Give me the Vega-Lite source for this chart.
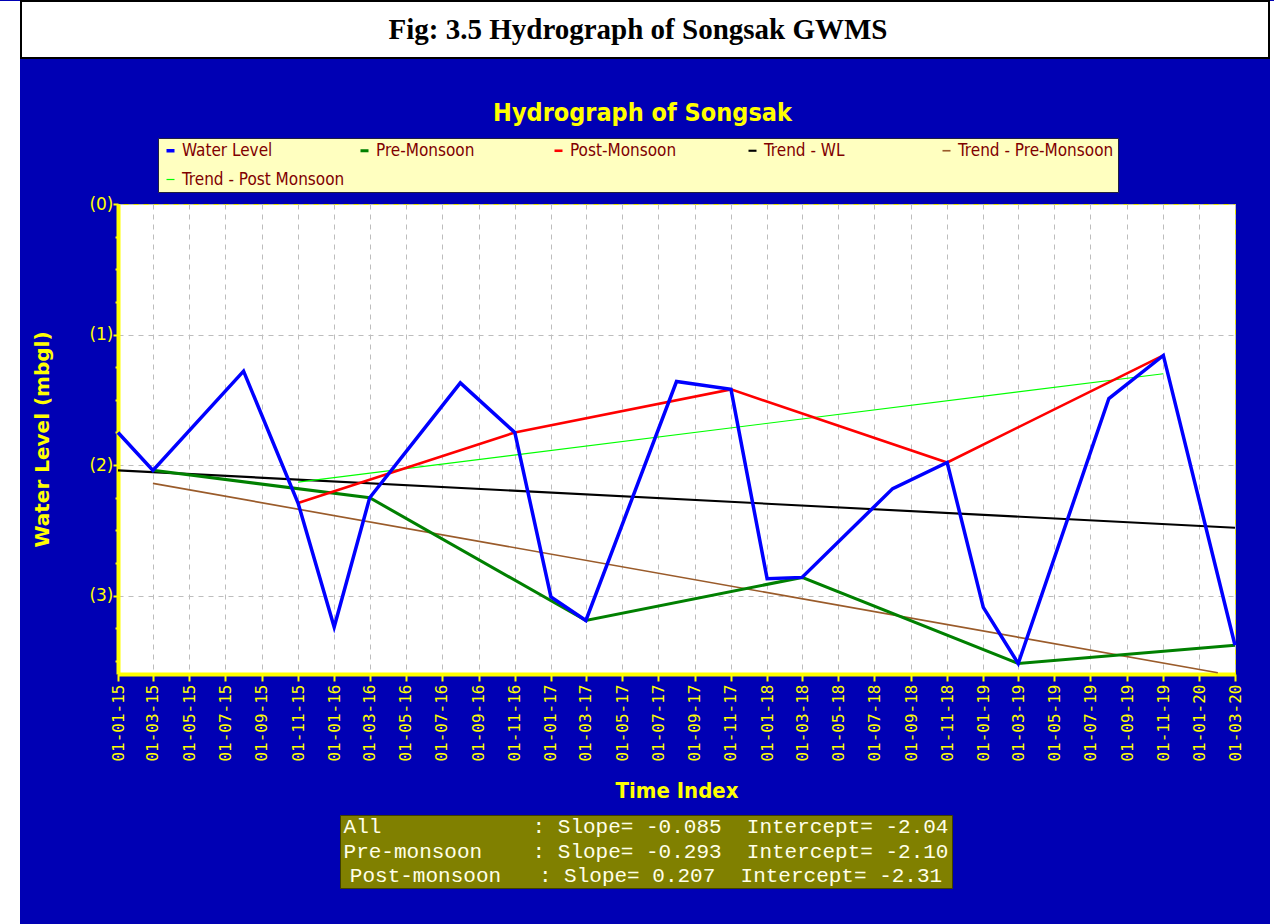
{
  "$schema": "https://vega.github.io/schema/vega-lite/v6.json",
  "background": "#0000B4",
  "padding": 0,
  "config": {"view": {"stroke": null}},
  "spacing": 0,
  "resolve": {"scale": {"color": "independent", "strokeWidth": "independent"}, "legend": {"color": "independent", "strokeWidth": "independent"}},
  "hconcat": [
    {"width": 20, "height": 924, "view": {"fill": "white"}, "data": {"values": []}, "mark": "point"},
    {
      "spacing": 41,
      "resolve": {"scale": {"color": "independent", "strokeWidth": "independent"}, "legend": {"color": "independent", "strokeWidth": "independent"}},
      "vconcat": [
        {
          "width": 1248,
          "height": 57,
          "view": {"fill": "white", "stroke": "black", "strokeWidth": 2},
          "data": {"values": [{"t": "Fig: 3.5 Hydrograph of Songsak GWMS"}]},
          "mark": {"type": "text", "font": "Liberation Serif", "fontWeight": "bold", "fontSize": 29, "color": "black", "align": "center", "baseline": "middle", "dx": -7},
          "encoding": {"text": {"field": "t", "type": "nominal"}}
        },
        {
          "spacing": 12,
          "resolve": {"scale": {"color": "independent", "strokeWidth": "independent"}, "legend": {"color": "independent", "strokeWidth": "independent"}},
          "vconcat": [
            {
              "spacing": 0,
              "resolve": {"scale": {"color": "independent", "strokeWidth": "independent"}, "legend": {"color": "independent", "strokeWidth": "independent"}},
              "hconcat": [
                {"width": 11, "height": 1, "data": {"values": []}, "mark": "point"},
                {
                  "width": 1117,
                  "height": 470,
                  "view": {"fill": "white", "stroke": "#E8E800", "strokeWidth": 1},
                  "title": {"text": "Hydrograph of Songsak", "color": "#FFFF00", "font": "DejaVu Sans Condensed, DejaVu Sans, Arial", "fontSize": 25, "fontWeight": "bold", "anchor": "middle", "dx": -34, "offset": 12},
                  "data": {"values": [
                    {"date": "2015-01-01", "level": -2.04, "series": "Trend - WL"},
                    {"date": "2020-03-01", "level": -2.48, "series": "Trend - WL"},
                    {"date": "2015-03-01", "level": -2.14, "series": "Trend - Pre-Monsoon"},
                    {"date": "2020-02-01", "level": -3.59, "series": "Trend - Pre-Monsoon"},
                    {"date": "2015-11-01", "level": -2.13, "series": "Trend - Post Monsoon"},
                    {"date": "2019-11-01", "level": -1.30, "series": "Trend - Post Monsoon"},
                    {"date": "2015-03-01", "level": -2.04, "series": "Pre-Monsoon"},
                    {"date": "2016-03-01", "level": -2.25, "series": "Pre-Monsoon"},
                    {"date": "2017-03-01", "level": -3.19, "series": "Pre-Monsoon"},
                    {"date": "2018-03-01", "level": -2.86, "series": "Pre-Monsoon"},
                    {"date": "2019-03-01", "level": -3.52, "series": "Pre-Monsoon"},
                    {"date": "2020-03-01", "level": -3.38, "series": "Pre-Monsoon"},
                    {"date": "2015-11-01", "level": -2.29, "series": "Post-Monsoon"},
                    {"date": "2016-11-01", "level": -1.75, "series": "Post-Monsoon"},
                    {"date": "2017-11-01", "level": -1.42, "series": "Post-Monsoon"},
                    {"date": "2018-11-01", "level": -1.98, "series": "Post-Monsoon"},
                    {"date": "2019-11-01", "level": -1.16, "series": "Post-Monsoon"},
                    {"date": "2015-01-01", "level": -1.75, "series": "Water Level"},
                    {"date": "2015-03-01", "level": -2.04, "series": "Water Level"},
                    {"date": "2015-08-01", "level": -1.28, "series": "Water Level"},
                    {"date": "2015-11-01", "level": -2.29, "series": "Water Level"},
                    {"date": "2016-01-01", "level": -3.24, "series": "Water Level"},
                    {"date": "2016-03-01", "level": -2.25, "series": "Water Level"},
                    {"date": "2016-08-01", "level": -1.37, "series": "Water Level"},
                    {"date": "2016-11-01", "level": -1.75, "series": "Water Level"},
                    {"date": "2017-01-01", "level": -3.01, "series": "Water Level"},
                    {"date": "2017-03-01", "level": -3.19, "series": "Water Level"},
                    {"date": "2017-08-01", "level": -1.36, "series": "Water Level"},
                    {"date": "2017-11-01", "level": -1.42, "series": "Water Level"},
                    {"date": "2018-01-01", "level": -2.87, "series": "Water Level"},
                    {"date": "2018-03-01", "level": -2.86, "series": "Water Level"},
                    {"date": "2018-08-01", "level": -2.18, "series": "Water Level"},
                    {"date": "2018-11-01", "level": -1.98, "series": "Water Level"},
                    {"date": "2019-01-01", "level": -3.09, "series": "Water Level"},
                    {"date": "2019-03-01", "level": -3.52, "series": "Water Level"},
                    {"date": "2019-08-01", "level": -1.49, "series": "Water Level"},
                    {"date": "2019-11-01", "level": -1.16, "series": "Water Level"},
                    {"date": "2020-03-01", "level": -3.38, "series": "Water Level"}
                  ]},
                  "mark": {"type": "line", "interpolate": "linear"},
                  "encoding": {
                    "x": {
                      "field": "date", "type": "temporal",
                      "scale": {"type": "utc", "domain": [{"year": 2015, "month": 1, "date": 1, "utc": true}, {"year": 2020, "month": 3, "date": 1, "utc": true}]},
                      "axis": {
                        "values": [
                          {"year": 2015, "month": 1, "date": 1, "utc": true}, {"year": 2015, "month": 3, "date": 1, "utc": true}, {"year": 2015, "month": 5, "date": 1, "utc": true}, {"year": 2015, "month": 7, "date": 1, "utc": true}, {"year": 2015, "month": 9, "date": 1, "utc": true}, {"year": 2015, "month": 11, "date": 1, "utc": true},
                          {"year": 2016, "month": 1, "date": 1, "utc": true}, {"year": 2016, "month": 3, "date": 1, "utc": true}, {"year": 2016, "month": 5, "date": 1, "utc": true}, {"year": 2016, "month": 7, "date": 1, "utc": true}, {"year": 2016, "month": 9, "date": 1, "utc": true}, {"year": 2016, "month": 11, "date": 1, "utc": true},
                          {"year": 2017, "month": 1, "date": 1, "utc": true}, {"year": 2017, "month": 3, "date": 1, "utc": true}, {"year": 2017, "month": 5, "date": 1, "utc": true}, {"year": 2017, "month": 7, "date": 1, "utc": true}, {"year": 2017, "month": 9, "date": 1, "utc": true}, {"year": 2017, "month": 11, "date": 1, "utc": true},
                          {"year": 2018, "month": 1, "date": 1, "utc": true}, {"year": 2018, "month": 3, "date": 1, "utc": true}, {"year": 2018, "month": 5, "date": 1, "utc": true}, {"year": 2018, "month": 7, "date": 1, "utc": true}, {"year": 2018, "month": 9, "date": 1, "utc": true}, {"year": 2018, "month": 11, "date": 1, "utc": true},
                          {"year": 2019, "month": 1, "date": 1, "utc": true}, {"year": 2019, "month": 3, "date": 1, "utc": true}, {"year": 2019, "month": 5, "date": 1, "utc": true}, {"year": 2019, "month": 7, "date": 1, "utc": true}, {"year": 2019, "month": 9, "date": 1, "utc": true}, {"year": 2019, "month": 11, "date": 1, "utc": true},
                          {"year": 2020, "month": 1, "date": 1, "utc": true}, {"year": 2020, "month": 3, "date": 1, "utc": true}
                        ],
                        "format": "%d-%m-%y",
                        "labelAngle": 270,
                        "labelColor": "#FFFF00",
                        "labelFont": "DejaVu Sans Mono",
                        "labelFontSize": 16,
                        "labelPadding": 3,
                        "labelFlush": false,
                        "labelOverlap": false,
                        "tickColor": "#FFFF00",
                        "tickWidth": 2,
                        "tickSize": 7,
                        "domainColor": "#FFFF00",
                        "domainWidth": 4,
                        "grid": true,
                        "gridColor": "#BDBDBD",
                        "gridDash": [5, 5],
                        "title": "Time Index",
                        "titleColor": "#FFFF00",
                        "titleFont": "DejaVu Sans Condensed, DejaVu Sans, Arial",
                        "titleFontSize": 22,
                        "titleFontWeight": "bold",
                        "titlePadding": 19
                      }
                    },
                    "y": {
                      "field": "level", "type": "quantitative",
                      "scale": {"domain": [-3.6, 0], "nice": false, "zero": false},
                      "axis": {
                        "values": [-3.5, -3.25, -3, -2.75, -2.5, -2.25, -2, -1.75, -1.5, -1.25, -1, -0.75, -0.5, -0.25, 0],
                        "labelExpr": "datum.value % 1 === 0 ? '(' + format(abs(datum.value), 'd') + ')' : ''",
                        "labelColor": "#FFFF00",
                        "labelFont": "DejaVu Sans",
                        "labelFontSize": 17,
                        "labelPadding": 0,
                        "labelFlush": false,
                        "tickColor": "#FFFF00",
                        "tickWidth": 2,
                        "tickSize": {"condition": {"test": "datum.value % 1 === 0", "value": 5}, "value": 3},
                        "domainColor": "#FFFF00",
                        "domainWidth": 4,
                        "grid": true,
                        "gridColor": "#BDBDBD",
                        "gridDash": [5, 5],
                        "gridOpacity": {"condition": {"test": "datum.value % 1 !== 0", "value": 0}, "value": 1},
                        "title": "Water Level (mbgl)",
                        "titleColor": "#FFFF00",
                        "titleFont": "DejaVu Sans",
                        "titleFontSize": 20,
                        "titleFontWeight": "bold",
                        "titlePadding": 36
                      }
                    },
                    "color": {
                      "field": "series", "type": "nominal",
                      "scale": {
                        "domain": ["Water Level", "Pre-Monsoon", "Post-Monsoon", "Trend - WL", "Trend - Pre-Monsoon", "Trend - Post Monsoon"],
                        "range": ["#0000FF", "#008000", "#FF0000", "#000000", "#9A5B2A", "#00FF00"]
                      },
                      "legend": {
                        "orient": "none",
                        "legendX": 40,
                        "legendY": -66,
                        "direction": "horizontal",
                        "columns": 5,
                        "gridAlign": "all",
                        "columnPadding": 9,
                        "rowPadding": 11,
                        "padding": 4,
                        "fillColor": "#FFFFC0",
                        "strokeColor": "#202040",
                        "title": null,
                        "labelColor": "#800000",
                        "labelFont": "DejaVu Sans Condensed, DejaVu Sans, Arial",
                        "labelFontSize": 17,
                        "labelLimit": 400,
                        "labelOffset": 3,
                        "symbolType": "stroke",
                        "symbolStrokeWidth": 3,
                        "symbolSize": 64
                      }
                    },
                    "strokeWidth": {
                      "field": "series", "type": "nominal",
                      "scale": {
                        "domain": ["Water Level", "Pre-Monsoon", "Post-Monsoon", "Trend - WL", "Trend - Pre-Monsoon", "Trend - Post Monsoon"],
                        "range": [3.5, 1.2, 1.2, 1.8, 2.2, 1.8]
                      },
                      "legend": null
                    }
                  }
                }
              ]
            },
            {
              "spacing": 0,
              "hconcat": [
                {"width": 318, "height": 1, "data": {"values": []}, "mark": "point"},
                {
                  "width": 612,
                  "height": 73,
                  "view": {"fill": "#808000", "stroke": "#404000", "strokeWidth": 1},
                  "data": {"values": [
                    {"row": 1, "line": "All\u00a0\u00a0\u00a0\u00a0\u00a0\u00a0\u00a0\u00a0\u00a0\u00a0\u00a0\u00a0:\u00a0Slope=\u00a0-0.085\u00a0\u00a0Intercept=\u00a0-2.04"},
                    {"row": 2, "line": "Pre-monsoon\u00a0\u00a0\u00a0\u00a0:\u00a0Slope=\u00a0-0.293\u00a0\u00a0Intercept=\u00a0-2.10"},
                    {"row": 3, "line": "Post-monsoon\u00a0\u00a0\u00a0:\u00a0Slope=\u00a00.207\u00a0\u00a0Intercept=\u00a0-2.31"}
                  ]},
                  "mark": {"type": "text", "font": "Liberation Mono", "fontSize": 21, "color": "#FFFFE8", "align": "center", "baseline": "middle"},
                  "encoding": {
                    "y": {"field": "row", "type": "ordinal", "axis": null},
                    "text": {"field": "line", "type": "nominal"}
                  }
                }
              ]
            }
          ]
        }
      ]
    },
    {"width": 6, "height": 924, "view": {"fill": "white"}, "data": {"values": []}, "mark": "point"}
  ]
}
